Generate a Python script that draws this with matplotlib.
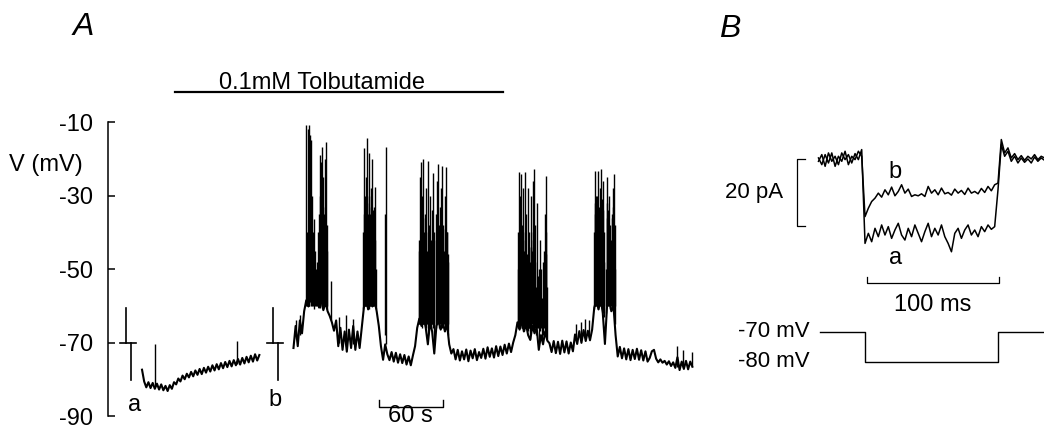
import numpy as np
import matplotlib
matplotlib.use("Agg")
import matplotlib.pyplot as plt

plt.rcParams['font.family'] = ['Liberation Sans', 'DejaVu Sans']
plt.rcParams['axes.unicode_minus'] = False

# ---------------- Panel A: membrane potential (mV) vs time (s) ----------------
dt_a = 2.0

# control period, before tolbutamide (starts at t = 0 s)
pre_t0 = 0.0
pre_v = [-77.4, -80.6, -82.2, -80.8, -82.4, -81.0, -82.6, -81.2, -82.8, -81.4,
         -83.0, -81.8, -83.2, -81.6, -82.6, -80.8, -81.4, -79.8, -80.6, -79.0,
         -80.0, -78.5, -79.5, -78.0, -79.2, -77.6, -78.8, -77.2, -78.6, -76.9,
         -78.2, -76.6, -77.9, -76.2, -77.6, -75.9, -77.3, -75.6, -77.0, -75.3,
         -76.7, -75.0, -76.5, -74.8, -76.2, -74.5, -76.0, -74.2, -75.7, -73.9,
         -75.4, -73.6, -75.2, -73.2, -74.9, -73.4]

# recording after the step protocol (starts at t = 142 s)
post_t0 = 142.0
post_v = [-71.5, -65.5, -71.0, -64.0, -67.5, -61.5, -58.5, -60.2, -57.0, -59.8,
          -58.0, -57.5, -60.5, -58.2, -61.2, -59.0, -61.5, -62.8, -64.5, -66.8,
          -64.0, -71.0, -66.0, -72.0, -67.0, -72.5, -66.5, -71.5, -65.5, -72.0,
          -67.0, -71.5, -66.0, -60.5, -58.0, -61.0, -57.5, -60.2, -58.5, -61.5,
          -65.5, -71.0, -74.7, -70.5, -73.2, -74.8, -72.6, -75.2, -72.8, -75.5,
          -73.2, -75.6, -73.4, -76.0, -73.8, -76.2, -73.5, -71.0, -66.0, -63.5,
          -65.5, -63.0, -66.0, -70.5, -64.5, -67.0, -73.0, -65.5, -64.0, -66.5,
          -64.5, -67.0, -65.0, -70.5, -73.0, -71.8, -74.6, -72.0, -74.9, -72.4,
          -74.6, -71.9, -75.1, -72.2, -74.3, -71.8, -74.8, -72.6, -74.2, -71.7,
          -74.4, -71.3, -73.9, -71.6, -74.1, -71.0, -73.7, -71.1, -73.4, -70.6,
          -73.0, -70.3, -72.6, -70.0, -68.0, -64.5, -66.5, -64.0, -67.0, -65.0,
          -68.0, -69.3, -65.5, -67.5, -66.0, -72.0, -68.0, -70.5, -67.0, -69.5,
          -70.2, -72.6, -69.6, -72.9, -69.8, -73.1, -69.5, -72.7, -69.7, -73.0,
          -70.0, -72.4, -67.8, -70.4, -66.9, -70.1, -66.6, -69.6, -66.8, -69.4,
          -66.5, -60.5, -58.5, -61.0, -58.0, -62.0, -70.4, -60.0, -58.5, -61.5,
          -60.0, -68.0, -73.8, -71.2, -74.3, -71.6, -74.6, -71.8, -74.8, -72.0,
          -74.5, -71.7, -74.7, -72.1, -74.9, -72.4, -75.2, -74.2, -72.4, -72.0,
          -74.4, -75.4, -74.6, -75.5, -75.0, -76.0, -75.1, -76.4, -75.4, -76.9,
          -74.0, -77.5, -75.2, -77.2, -75.0, -77.3, -75.2, -76.6]

# resolved action potentials: time (s), foot and peak (mV)
spike_t = [12.0, 89.0, 144.4, 148.5,
           153.8, 155.2, 156.6, 157.5, 158.4, 159.4, 160.3, 161.3, 162.2, 163.5,
           165.0, 166.9, 167.8, 168.8, 169.8, 170.7, 171.6, 172.5, 173.4, 177.2,
           184.5, 191.0, 197.5,
           207.2, 208.1, 209.0, 209.9, 210.9, 211.8, 212.8, 213.7, 214.6, 215.6,
           216.5, 217.4, 218.4, 219.3, 228.0, 228.8,
           259.7, 260.6, 261.6, 262.5, 263.4, 264.4, 265.3, 266.2, 267.2, 268.1,
           269.1, 270.0, 271.0, 271.9, 272.8, 273.8, 275.6, 276.6, 277.5, 278.4,
           279.4, 280.3, 281.3, 282.2, 283.1, 284.1, 285.0, 286.0, 286.9,
           352.5, 353.4, 354.4, 355.3, 356.2, 357.2, 358.1, 359.1, 360.0, 361.0,
           361.9, 362.8, 363.8, 364.7, 365.6, 366.6, 367.5, 368.4, 369.4, 370.3,
           372.2, 373.1, 375.0, 376.0, 377.8, 378.8, 379.7,
           407.0, 412.0, 415.0, 419.0,
           424.0, 424.7, 425.6, 426.6, 427.5, 428.4, 429.4, 430.3, 431.2, 432.2,
           433.1, 435.0, 435.9, 436.9, 437.8, 438.8, 440.6, 441.6, 442.5, 443.4,
           501.6, 507.2, 515.6]
spike_lo = [-81.8, -75.9, -69.0, -68.0,
            -60.0, -60.0, -60.0, -59.0, -60.0, -59.0, -60.0, -61.0, -60.0, -59.0,
            -60.0, -60.5, -59.0, -60.0, -61.0, -59.5, -60.0, -60.0, -61.0, -64.0,
            -70.0, -71.0, -70.5,
            -61.0, -60.0, -59.0, -60.0, -60.0, -59.0, -61.0, -60.0, -59.0, -60.0,
            -60.0, -59.0, -60.0, -61.0, -68.0, -70.5,
            -65.0, -64.0, -65.0, -66.0, -65.0, -64.0, -65.0, -66.0, -65.0, -68.0,
            -65.0, -64.0, -66.0, -65.0, -66.0, -70.0, -66.0, -65.0, -64.0, -66.0,
            -65.0, -64.0, -66.0, -65.0, -64.0, -66.0, -65.0, -66.0, -68.0,
            -66.0, -65.0, -66.0, -65.0, -64.0, -66.0, -67.0, -66.0, -65.0, -66.0,
            -67.0, -66.0, -69.0, -66.0, -65.0, -66.0, -67.0, -66.0, -68.0, -66.0,
            -70.0, -67.0, -69.0, -68.0, -67.0, -68.0, -69.0,
            -69.0, -69.0, -68.5, -68.5,
            -61.0, -60.0, -59.0, -60.0, -61.0, -60.0, -59.0, -60.0, -61.0, -62.0,
            -63.0, -62.0, -60.0, -59.0, -60.0, -61.0, -60.0, -61.0, -62.0, -65.0,
            -76.6, -76.8, -76.3]
spike_hi = [-70.4, -69.6, -64.0, -62.5,
            -10.8, -12.0, -10.8, -13.5, -14.8, -30.0, -40.0, -36.3, -45.0, -50.0,
            -40.0, -18.9, -21.0, -16.7, -25.0, -35.0, -20.0, -15.4, -45.0, -53.2,
            -63.0, -62.5, -63.5,
            -40.0, -17.0, -30.0, -25.0, -14.3, -35.0, -18.3, -45.0, -28.0, -20.2,
            -40.0, -33.0, -27.7, -50.0, -35.0, -16.7,
            -45.0, -25.0, -21.0, -30.0, -20.2, -40.0, -35.0, -28.0, -45.0, -20.7,
            -38.0, -30.0, -50.0, -34.0, -24.0, -40.0, -35.0, -26.0, -21.5, -42.0,
            -33.0, -28.0, -22.1, -38.0, -46.0, -30.0, -22.3, -40.0, -48.0,
            -50.0, -23.7, -30.0, -24.2, -38.0, -28.0, -45.0, -23.7, -35.0, -48.0,
            -28.0, -40.0, -52.0, -30.0, -45.0, -26.0, -22.9, -38.0, -55.0, -32.0,
            -50.0, -42.0, -57.8, -48.0, -35.0, -24.8, -55.0,
            -65.0, -64.5, -63.5, -64.0,
            -40.0, -23.4, -30.0, -35.0, -23.4, -45.0, -28.0, -22.9, -40.0, -26.1,
            -48.0, -50.0, -25.0, -38.0, -30.0, -45.0, -35.0, -28.0, -24.2, -50.0,
            -71.0, -72.0, -72.6]

# unresolved (overlapping) spikes inside the bursts
burst_t = [154.3, 155.7, 157.0, 158.9, 163.0, 164.2, 166.0, 167.3, 168.3, 169.3,
           170.2, 171.1, 172.0, 173.0,
           207.7, 208.6, 209.5, 210.4, 211.3, 212.3, 213.2, 214.1, 215.1, 216.0,
           216.9, 217.9, 218.9,
           260.1, 261.1, 262.0, 263.0, 263.9, 264.9, 265.8, 266.7, 268.6, 269.6,
           270.5, 272.3, 273.3, 276.1, 277.0, 278.0, 278.9, 279.9, 280.8, 281.8,
           282.7, 284.6, 285.5, 286.5,
           352.9, 353.9, 354.8, 355.8, 356.7, 357.6, 358.6, 359.5, 360.5, 362.4,
           363.3, 365.1, 366.1, 367.0, 367.9, 368.9, 371.2, 374.0, 376.9, 378.3,
           379.2,
           424.3, 425.1, 426.1, 427.0, 428.0, 428.9, 429.8, 430.8, 431.7, 432.6,
           433.6, 435.5, 436.4, 437.3, 438.3, 439.7, 441.1, 442.0, 443.0]
burst_lo = [-60.0] * 14 + [-60.0] * 13 + [-65.0] * 24 + [-66.0] * 21 + [-60.0] * 19
burst_hi = [-40.0, -45.0, -42.0, -46.0, -52.0, -48.0, -35.0, -30.0, -38.0, -33.0,
            -40.0, -36.0, -42.0, -38.0,
            -35.0, -33.0, -36.0, -34.0, -32.0, -38.0, -30.0, -35.0, -33.0, -36.0,
            -34.0, -38.0, -42.0,
            -42.0, -38.0, -40.0, -36.0, -44.0, -42.0, -40.0, -46.0, -40.0, -44.0,
            -42.0, -45.0, -42.0, -44.0, -40.0, -38.0, -44.0, -40.0, -42.0, -39.0,
            -45.0, -42.0, -40.0, -46.0,
            -40.0, -42.0, -38.0, -44.0, -40.0, -45.0, -42.0, -40.0, -46.0, -44.0,
            -48.0, -44.0, -42.0, -40.0, -45.0, -48.0, -52.0, -50.0, -45.0, -40.0,
            -46.0,
            -35.0, -32.0, -34.0, -30.0, -36.0, -33.0, -35.0, -31.0, -36.0, -34.0,
            -40.0, -36.0, -32.0, -34.0, -38.0, -42.0, -36.0, -33.0, -38.0]

# step-protocol markers a / b (time of marker, s) and their label positions
marker_names = ['a', 'b']
marker_t = [-15.0, 122.8]
marker_label_t = [-6.6, 124.7]
marker_label_v = [-87.0, -85.6]
drug_label = '0.1mM Tolbutamide'
drug_on, drug_off = 31.0, 338.0
yticks_a = [-10, -30, -50, -70, -90]

# ---------------- Panel B: K(ATP) current (pA) vs time (ms) ----------------
dt_b = 2.5
b_t0 = -35.0
cur_b = [1.5, -0.5, 2.5, 0.0, 3.0, -1.0, 2.0, 0.5, 3.5, -0.5, 2.0, 1.0, 3.5, 2.0,
         -16.0,
         -13.5, -11.5, -10.5, -9.0, -10.2, -8.0, -9.5, -7.2, -9.8, -8.5,
         -6.5, -9.0, -7.8, -10.0, -9.5, -9.8, -9.2, -10.0, -7.0, -9.0,
         -8.0, -9.5, -7.5, -9.2, -8.8, -9.6, -7.8, -9.0, -8.2, -9.4,
         -7.5, -9.0, -8.5, -9.2, -7.6, -8.8, -7.0, -8.3, -6.5,
         -6.0,
         7.0, 3.0, 4.5, 1.5, 2.8, 1.0, 2.2, 0.8, 2.0, 1.2, 2.5, 1.0, 2.0, 1.5]
cur_a = [0.5, 2.5, -1.0, 3.0, 0.5, 2.0, -0.5, 3.0, 1.0, 2.5, 0.0, 2.8, 1.0, 4.0,
         -24.0,
         -21.0, -23.5, -19.5, -22.0, -18.5, -21.5, -19.0, -22.5, -20.0, -18.0,
         -21.5, -23.0, -19.5, -22.0, -18.5, -21.0, -23.5, -20.5, -18.0, -22.0,
         -19.5, -21.5, -18.5, -22.0, -24.0, -26.5, -21.0, -19.5, -22.5, -20.0,
         -18.5, -21.5, -20.0, -22.0, -19.0, -20.5, -18.5, -19.8, -19.0,
         -8.0,
         5.5, 2.0, 3.5, 0.5, 2.0, 0.0, 1.5, 0.2, 1.2, 0.0, 1.8, 0.5, 1.5, 0.8]

step_t = [-34, 0, 0, 100, 100, 135]
step_v = [-70, -70, -80, -80, -70, -70]

FS = 17

fig = plt.figure(figsize=(10.44, 4.29), dpi=100)

# ---- panel A ----
axA = fig.add_axes([0.10345, 0.03030, 0.58621, 0.68531])
axA.set_xlim(-31.9, 541.9)
axA.set_ylim(-90, -10)

pre_t = pre_t0 + dt_a * np.arange(len(pre_v))
post_t = post_t0 + dt_a * np.arange(len(post_v))
axA.plot(pre_t, pre_v, color='black', lw=1.5)
axA.plot(post_t, post_v, color='black', lw=1.5)
axA.vlines(spike_t, spike_lo, spike_hi, colors='black', lw=1.0)
axA.vlines(burst_t, burst_lo, burst_hi, colors='black', lw=1.0)

for s in ['top', 'right', 'bottom']:
    axA.spines[s].set_visible(False)
axA.spines['left'].set_linewidth(1.1)
axA.set_xticks([])
axA.set_yticks(yticks_a)
axA.set_yticklabels([str(v) for v in yticks_a])
axA.tick_params(axis='y', direction='in', length=5, width=1.1, pad=11, labelsize=FS)

# step markers
for tm, name, lt, lv in zip(marker_t, marker_names, marker_label_t, marker_label_v):
    axA.plot([tm, tm], [-60.5, -70], color='black', lw=1.2, clip_on=False)
    axA.plot([tm - 5.5, tm + 9.5], [-70, -70], color='black', lw=1.2, clip_on=False)
    axA.plot([tm + 4.7, tm + 4.7], [-70, -80.2], color='black', lw=1.2, clip_on=False)
    axA.text(lt, lv, name, fontsize=FS, ha='center', va='center')

# drug application bar
axA.plot([drug_on, drug_off], [-1.85, -1.85], color='black', lw=1.6, clip_on=False)
axA.text(168.8, -1.1, drug_label, fontsize=FS, ha='center', va='baseline')

# 60 s scale bar
axA.plot([222, 222, 282, 282], [-85.6, -87.6, -87.6, -85.6], color='black', lw=1.0,
         clip_on=False)
axA.text(252, -90.0, '60 s', fontsize=FS, ha='center', va='center')

fig.text(0.044, 0.615, 'V (mV)', fontsize=FS, ha='center', va='center')
fig.text(0.0795, 0.937, 'A', fontsize=23, style='italic', ha='center', va='center')
fig.text(0.699, 0.932, 'B', fontsize=23, style='italic', ha='center', va='center')

# ---- panel B: currents ----
axB = fig.add_axes([0.67050, 0.30070, 0.32950, 0.46620])
axB.set_xlim(-124.1, 134.6)
axB.set_ylim(-40.9, 18.8)
axB.axis('off')
tb = b_t0 + dt_b * np.arange(len(cur_b))
axB.plot(tb, cur_b, color='black', lw=1.1)
axB.plot(tb, cur_a, color='black', lw=1.1)
axB.text(22.6, -2.7, 'b', fontsize=FS, ha='center', va='center')
axB.text(23.3, -28.4, 'a', fontsize=FS, ha='center', va='center')

# 20 pA bracket
axB.plot([-45.0, -51.1, -51.1, -45.0], [1.2, 1.2, -18.8, -18.8], color='black', lw=0.9,
         clip_on=False)
axB.text(-61.7, -8.8, '20 pA', fontsize=16, ha='right', va='center')

# 100 ms scale bar
axB.plot([1.5, 1.5, 100.5, 100.5], [-34.0, -35.8, -35.8, -34.0], color='black', lw=0.9,
         clip_on=False)
axB.text(51, -42.4, '100 ms', fontsize=FS, ha='center', va='center', clip_on=False)

# ---- panel B: voltage protocol ----
axV = fig.add_axes([0.67050, 0.06760, 0.32950, 0.20979])
axV.set_xlim(-124.1, 134.6)
axV.set_ylim(-92.7, -62.7)
axV.axis('off')
axV.plot(step_t, step_v, color='black', lw=1.0)
axV.text(-41.4, -70, '-70 mV', fontsize=16, ha='right', va='center')
axV.text(-41.4, -80, '-80 mV', fontsize=16, ha='right', va='center')

fig.savefig('out.png', dpi=100)
